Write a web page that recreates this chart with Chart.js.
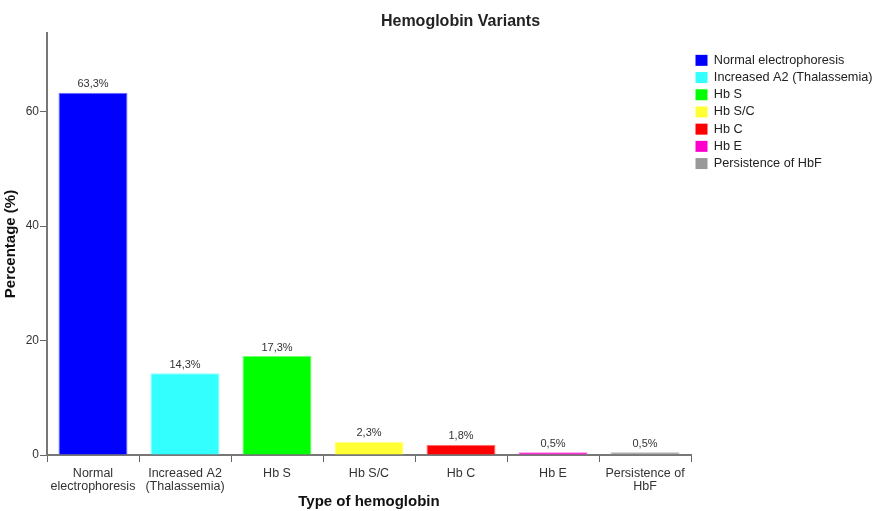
<!DOCTYPE html>
<html>
<head>
<meta charset="utf-8">
<script src="https://cdn.jsdelivr.net/npm/chart.js@4.4.0/dist/chart.umd.min.js"></script>
<style>
  html, body { margin: 0; padding: 0; background: #fff; }
  #wrap { width: 874px; height: 511px; }
</style>
</head>
<body>
<div id="wrap"><canvas id="hbChart" width="874" height="511"></canvas></div>
<script>
// Hemoglobin variants - bar chart
const categories = [
    'Normal electrophoresis',
    'Increased A2 (Thalassemia)',
    'Hb S',
    'Hb S/C',
    'Hb C',
    'Hb E',
    'Persistence of HbF'
];
// wrapped versions for the x-axis ticks
const tickLabels = [
    ['Normal', 'electrophoresis'],
    ['Increased A2', '(Thalassemia)'],
    'Hb S',
    'Hb S/C',
    'Hb C',
    'Hb E',
    ['Persistence of', 'HbF']
];
const percentages = [63.3, 14.3, 17.3, 2.3, 1.8, 0.5, 0.5];
const yTicks = [0, 20, 40, 60];
const barColors = ['#0000ff', '#33ffff', '#00ff00', '#ffff33', '#ff0000', '#ff00cc', '#999999'];
const barBorders = ['#6f6fff', '#8fffff', '#6fff6f', '#ffff8f', '#ff6f6f', '#ff6fdf', '#bbbbbb'];

const fontFamily = 'Arial, "Liberation Sans", sans-serif';

// values above each bar, comma decimal like the original
const valueLabels = {
    id: 'valueLabels',
    afterDatasetsDraw(chart) {
        const ctx = chart.ctx;
        const meta = chart.getDatasetMeta(0);
        ctx.save();
        ctx.font = '11px ' + fontFamily;
        ctx.fillStyle = '#333';
        ctx.textAlign = 'center';
        ctx.textBaseline = 'bottom';
        meta.data.forEach((bar, i) => {
            const txt = percentages[i].toFixed(1).replace('.', ',') + '%';
            ctx.fillText(txt, bar.x, bar.y - 3);
        });
        ctx.restore();
    }
};

// main title, centred over the area right of the y axis
const mainTitle = {
    id: 'mainTitle',
    afterDraw(chart) {
        const ctx = chart.ctx;
        ctx.save();
        ctx.font = 'bold 16px ' + fontFamily;
        ctx.fillStyle = '#222';
        ctx.textAlign = 'center';
        ctx.textBaseline = 'middle';
        ctx.fillText('Hemoglobin Variants', (chart.chartArea.left + chart.width) / 2, 22);
        ctx.restore();
    }
};

const ctx = document.getElementById('hbChart').getContext('2d');
const hbChart = new Chart(ctx, {
    type: 'bar',
    data: {
        labels: tickLabels,
        datasets: [{
            label: 'Percentage',
            data: percentages,
            backgroundColor: barColors,
            borderColor: barBorders,
            borderWidth: 1,
            categoryPercentage: 1,
            barPercentage: 0.75
        }]
    },
    options: {
        responsive: false,
        animation: false,
        layout: {
            padding: { top: 33, right: 0, bottom: 0, left: 0 }
        },
        plugins: {
            title: { display: false },
            tooltip: { enabled: false },
            legend: {
                position: 'right',
                align: 'start',
                maxWidth: 183,
                title: { display: true, text: '', font: { size: 11, lineHeight: 1.5 }, padding: 0 },
                labels: {
                    boxWidth: 12,
                    boxHeight: 11,
                    padding: 4.5,
                    color: '#222',
                    font: { family: fontFamily, size: 12.7 },
                    generateLabels: function() {
                        return categories.map((c, i) => ({
                            text: c,
                            fillStyle: barColors[i],
                            strokeStyle: barColors[i],
                            fontColor: '#222',
                            lineWidth: 0,
                            hidden: false,
                            index: i
                        }));
                    }
                },
                onClick: null
            }
        },
        scales: {
            x: {
                offset: true,
                grid: {
                    display: true,
                    drawOnChartArea: false,
                    drawTicks: true,
                    tickLength: 7,
                    color: '#666',
                    lineWidth: 1
                },
                border: { color: '#777', width: 2 },
                ticks: {
                    color: '#333',
                    padding: 5,
                    maxRotation: 0,
                    autoSkip: false,
                    font: { family: fontFamily, size: 12.5, lineHeight: 1.05 }
                },
                title: {
                    display: true,
                    text: 'Type of hemoglobin',
                    color: '#111',
                    font: { family: fontFamily, size: 15, weight: 'bold' },
                    padding: { top: 0, bottom: 0 }
                },
                afterFit(scale) { scale.height = 56; }
            },
            y: {
                min: 0,
                max: 73.75,
                grid: {
                    display: true,
                    drawOnChartArea: false,
                    drawTicks: true,
                    tickLength: 7,
                    color: '#666',
                    lineWidth: 1
                },
                border: { color: '#777', width: 2 },
                afterBuildTicks(scale) {
                    scale.ticks = yTicks.map(v => ({ value: v }));
                },
                ticks: {
                    color: '#333',
                    padding: 1,
                    font: { family: fontFamily, size: 12 }
                },
                title: {
                    display: true,
                    text: 'Percentage (%)',
                    color: '#111',
                    font: { family: fontFamily, size: 15, weight: 'bold' },
                    padding: { top: 2, bottom: 0 }
                },
                afterFit(scale) { scale.width = 47; }
            }
        }
    },
    plugins: [valueLabels, mainTitle]
});
</script>
</body>
</html>
